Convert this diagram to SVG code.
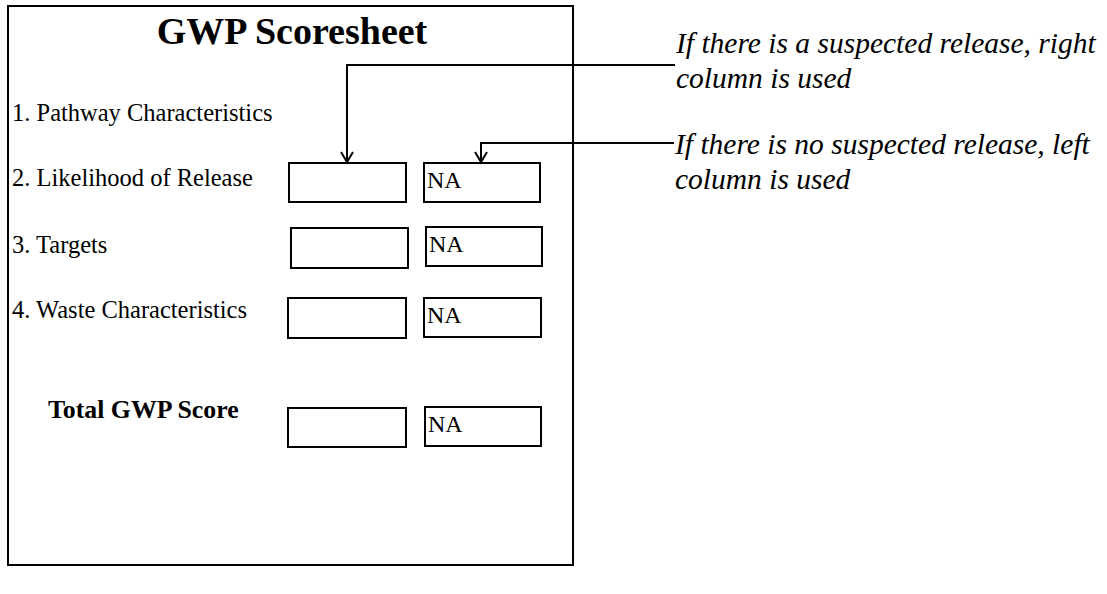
<svg xmlns="http://www.w3.org/2000/svg" width="1107" height="594" viewBox="0 0 1107 594">
<style>
.frame{fill:#fff;stroke:#000;stroke-width:2}
.box{fill:#fff;stroke:#000;stroke-width:2}
.lbl{font-family:"Liberation Serif","Times New Roman",serif;font-size:24.5px;fill:#000}
.na{font-family:"Liberation Serif","Times New Roman",serif;font-size:24px;fill:#000}
.ttl{font-family:"Liberation Serif","Times New Roman",serif;font-size:38px;font-weight:bold;fill:#000}
.bold{font-family:"Liberation Serif","Times New Roman",serif;font-size:25.8px;font-weight:bold;fill:#000}
.note{font-family:"Liberation Serif","Times New Roman",serif;font-size:29.5px;font-style:italic;fill:#000}
.conn{fill:none;stroke:#000;stroke-width:2}
</style>
<defs>
<marker id="vhead" viewBox="-1 -7 12 14" refX="10" refY="0" markerWidth="12" markerHeight="14" markerUnits="userSpaceOnUse" orient="auto">
<path d="M0,-6 L10,0 L0,6" fill="none" stroke="#000" stroke-width="2"/>
</marker>
</defs>
<rect width="1107" height="594" fill="#fff"/>
<g id="sheet">
<rect class="frame" x="8" y="6" width="565" height="559"/>
<text class="ttl" x="292" y="44" text-anchor="middle">GWP Scoresheet</text>
</g>
<g id="row1">
<text class="lbl" x="12" y="121">1. Pathway Characteristics</text>
</g>
<g id="row2">
<text class="lbl" x="12" y="186">2. Likelihood of Release</text>
<rect id="row2-left" class="box" x="289" y="163" width="117" height="39"/>
<rect id="row2-right" class="box" x="424" y="163" width="116" height="39"/>
<text class="na" x="427" y="188">NA</text>
</g>
<g id="row3">
<text class="lbl" x="12" y="253">3. Targets</text>
<rect id="row3-left" class="box" x="291" y="228" width="117" height="40"/>
<rect id="row3-right" class="box" x="426" y="227" width="116" height="39"/>
<text class="na" x="429" y="252">NA</text>
</g>
<g id="row4">
<text class="lbl" x="12" y="318">4. Waste Characteristics</text>
<rect id="row4-left" class="box" x="288" y="298" width="118" height="40"/>
<rect id="row4-right" class="box" x="424" y="298" width="117" height="39"/>
<text class="na" x="427" y="323">NA</text>
</g>
<g id="total">
<text class="bold" x="48" y="418">Total GWP Score</text>
<rect id="total-left" class="box" x="288" y="408" width="118" height="39"/>
<rect id="total-right" class="box" x="425" y="407" width="116" height="39"/>
<text class="na" x="428" y="432">NA</text>
</g>
<g id="note-right">
<text class="note" x="676" y="53">If there is a suspected release, right</text>
<text class="note" x="676" y="88">column is used</text>
</g>
<g id="note-left">
<text class="note" x="675" y="154">If there is no suspected release, left</text>
<text class="note" x="675" y="189">column is used</text>
</g>
<g id="connectors">
<path class="conn" d="M675,65 H347 V162" marker-end="url(#vhead)"/>
<path class="conn" d="M674,143 H481 V162" marker-end="url(#vhead)"/>
</g>
</svg>
